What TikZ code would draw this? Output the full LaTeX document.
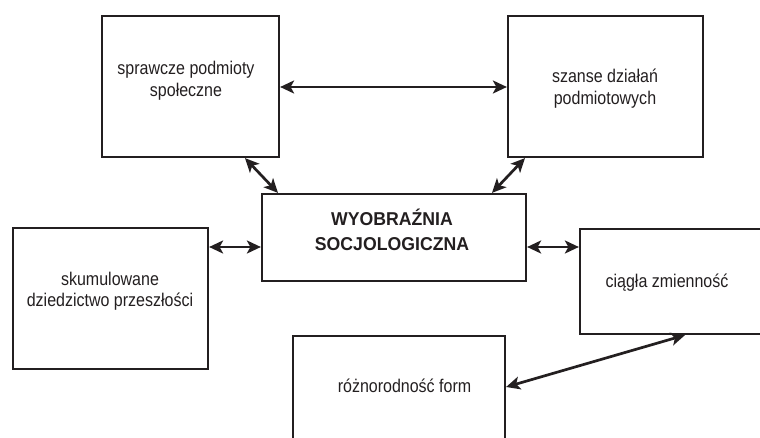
\documentclass[tikz,border=0pt]{standalone}
\usepackage{fontspec}
\setmainfont{Liberation Sans}
\newfontfamily\narrowfont[FakeStretch=0.87]{Liberation Sans}
\newfontfamily\narrowbold[FakeStretch=0.95]{Liberation Sans Bold}
\usetikzlibrary{arrows.meta}
\definecolor{ink}{HTML}{231F20}
\tikzset{
  box/.style={draw=ink, line width=2.2pt, rectangle, inner sep=0pt, fill=none},
  lbl/.style={text=ink, align=center, inner sep=0pt, font=\narrowfont\fontsize{18.4}{21.5}\selectfont},
  blbl/.style={text=ink, align=center, inner sep=0pt, font=\narrowbold\fontsize{18.6}{25}\selectfont},
  arr/.style={draw=ink, line width=2.7pt,
    {Stealth[length=14pt,width=13pt,inset=3.5pt]}-{Stealth[length=14pt,width=13pt,inset=3.5pt]}}
}
\begin{document}
\begin{tikzpicture}[x=1pt,y=-1pt]
\useasboundingbox (0,0) rectangle (760,438);
\clip (0,0) rectangle (760,438);
% boxes
\node[box, minimum width=177pt, minimum height=141pt] (b1) at (190.5,86.5) {};
\node[box, minimum width=195pt, minimum height=141pt] (b2) at (605.5,86.5) {};
\node[box, minimum width=264pt, minimum height=87pt] (c) at (394,237.5) {};
\node[box, minimum width=195pt, minimum height=141pt] (b4) at (110.5,298.5) {};
\node[box, minimum width=185pt, minimum height=105pt] (b5) at (672.5,281.5) {};
\node[box, minimum width=212pt, minimum height=109pt] (b6) at (399,390.5) {};
% labels
\node[lbl] (t1) at (186,80.5) {sprawcze podmioty\\społeczne};
\node[lbl] (t2) at (605,88.5) {szanse działań\\podmiotowych};
\node[blbl] (tc) at (392,230) {WYOBRAŹNIA\\SOCJOLOGICZNA};
\node[lbl] (t4) at (110,291) {skumulowane\\dziedzictwo przeszłości};
\node[lbl] (t5) at (667,283) {ciągła zmienność};
\node[lbl] (t6) at (404.5,386) {różnorodność form};
% connectors
\draw[arr] (b1.east |- 0,87) -- (b2.west |- 0,87);
\draw[arr] (b1.south -| 245,0) -- (c.north -| 278,0);
\draw[arr] (b2.south -| 525,0) -- (c.north -| 492,0);
\draw[arr] (b4.east |- 0,247) -- (c.west |- 0,247);
\draw[arr] (c.east |- 0,247) -- (b5.west |- 0,247);
\draw[arr] (b6.east |- 0,387) -- (b5.south -| 685,0);
\end{tikzpicture}
\end{document}
